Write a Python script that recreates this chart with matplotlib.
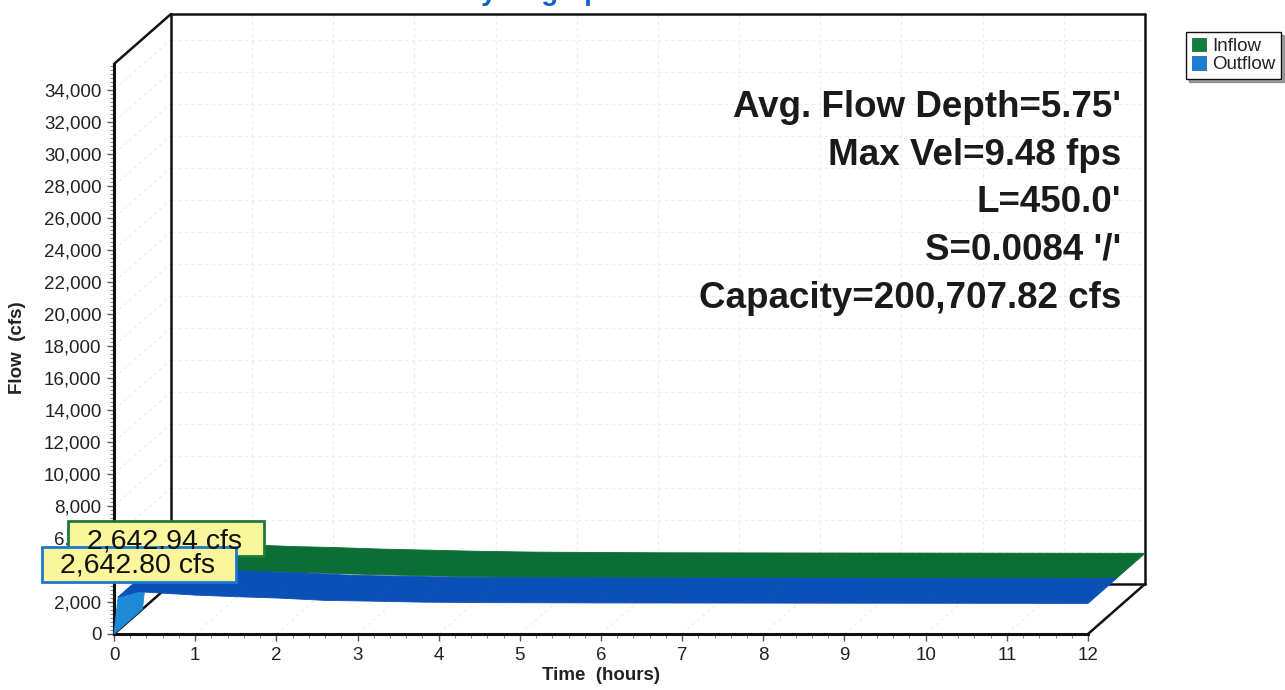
import numpy as np
import matplotlib.pyplot as plt
from matplotlib.patches import Patch, Polygon, Rectangle
from matplotlib.ticker import MultipleLocator, FuncFormatter

plt.rcParams['font.family'] = ['Liberation Sans', 'DejaVu Sans']

# reach routing hydrographs
time_hr = [0.0, 0.05, 0.3, 1.0, 1.5, 2.0, 2.6, 3.2, 3.8, 4.5, 6.0, 8.0, 10.0, 12.0]
inflow_cfs = [2642.94, 2640.0, 2600.0, 2440.0, 2340.0, 2280.0, 2180.0, 2110.0,
              2040.0, 1990.0, 1950.0, 1935.0, 1925.0, 1915.0]
outflow_cfs = [0.0, 2300.0, 2642.80, 2430.0, 2330.0, 2250.0, 2100.0, 2050.0,
               1990.0, 1960.0, 1940.0, 1930.0, 1920.0, 1910.0]
peak_in = 2642.94
peak_out = 2642.80

series_names = ['Inflow', 'Outflow']
stats_lines = ["Avg. Flow Depth=5.75'", "Max Vel=9.48 fps", "L=450.0'",
               "S=0.0084 '/'", "Capacity=200,707.82 cfs"]

T_MAX = 12.0
Q_MAX = 35600.0

W, H = 1285, 690
fig = plt.figure(figsize=(W / 100, H / 100), dpi=100)
fig.patch.set_facecolor('white')

# front plane of the pseudo-3d box
x0, x1, y0, y1 = 114, 1088, 634, 64
ax = fig.add_axes([x0 / W, 1 - y0 / H, (x1 - x0) / W, (y0 - y1) / H])
ax.set_xlim(0, T_MAX)
ax.set_ylim(0, Q_MAX)
ax.patch.set_alpha(0)

# depth of the box in data units (57 px right, 50 px up)
PX_T = (x1 - x0) / T_MAX
PX_Q = (y0 - y1) / Q_MAX
DEPTH_T = 57 / PX_T
DEPTH_Q = 50 / PX_Q

for s in ['top', 'right']:
    ax.spines[s].set_visible(False)
for s in ['left', 'bottom']:
    ax.spines[s].set_linewidth(2.2)
    ax.spines[s].set_color('#111111')

ax.xaxis.set_major_locator(MultipleLocator(1))
ax.xaxis.set_minor_locator(MultipleLocator(0.2))
ax.yaxis.set_major_locator(MultipleLocator(2000))
ax.yaxis.set_minor_locator(MultipleLocator(250))
ax.yaxis.set_major_formatter(FuncFormatter(lambda v, p: f'{v:,.0f}'))
ax.tick_params(which='major', length=5, width=1, color='#555555',
               labelsize=13.5, labelcolor='#222222', pad=4)
ax.tick_params(which='minor', length=3, width=0.8, color='#888888')

# faint grid on back wall, floor and side wall
grid_kw = dict(color='#ececec', lw=0.8, ls=(0, (3, 3)), clip_on=False, zorder=1)
for q in np.arange(2000, 34001, 2000):
    ax.plot([DEPTH_T, T_MAX + DEPTH_T], [q + DEPTH_Q, q + DEPTH_Q], **grid_kw)
    ax.plot([0, DEPTH_T], [q, q + DEPTH_Q], **grid_kw)
for t in range(1, 12):
    ax.plot([t + DEPTH_T, t + DEPTH_T], [DEPTH_Q, Q_MAX + DEPTH_Q], **grid_kw)
    ax.plot([t, t + DEPTH_T], [0, DEPTH_Q], **grid_kw)

# box outline
box_kw = dict(color='#111111', lw=1.8, clip_on=False, zorder=2, solid_capstyle='round')
ax.plot([0, DEPTH_T], [Q_MAX, Q_MAX + DEPTH_Q], **box_kw)
ax.plot([DEPTH_T, T_MAX + DEPTH_T], [Q_MAX + DEPTH_Q, Q_MAX + DEPTH_Q], **box_kw)
ax.plot([DEPTH_T, DEPTH_T], [DEPTH_Q, Q_MAX + DEPTH_Q], **box_kw)
ax.plot([T_MAX + DEPTH_T, T_MAX + DEPTH_T], [DEPTH_Q, Q_MAX + DEPTH_Q], **box_kw)
ax.plot([DEPTH_T, T_MAX + DEPTH_T], [DEPTH_Q, DEPTH_Q], **box_kw)
ax.plot([0, DEPTH_T], [0, DEPTH_Q], **box_kw)
ax.plot([T_MAX, T_MAX + DEPTH_T], [0, DEPTH_Q], **box_kw)


def ribbon(t, q, d0, d1, dark, light, z):
    t = np.asarray(t, float)
    q = np.asarray(q, float)
    for i in range(len(t) - 1):
        ts, qs = t[i:i + 2], q[i:i + 2]
        front = np.column_stack([ts + d0 * DEPTH_T, qs + d0 * DEPTH_Q])
        back = np.column_stack([ts[::-1] + d1 * DEPTH_T, qs[::-1] + d1 * DEPTH_Q])
        steep = abs(qs[1] - qs[0]) * PX_Q > abs(ts[1] - ts[0]) * PX_T
        c = light if steep else dark
        ax.add_patch(Polygon(np.vstack([front, back]), closed=True, fc=c, ec=c,
                             lw=0.6, clip_on=False, zorder=z))


green, green_l = '#0b6e34', '#2a9a55'
blue, blue_l = '#0b50b6', '#1e8ad6'
ribbon(time_hr, inflow_cfs, 0.5, 1.0, green, green_l, 3)
ribbon(time_hr, outflow_cfs, 0.0, 0.5, blue, blue_l, 4)

# axis titles and chart title
fig.text(601 / W, 1 - 676 / H, 'Time  (hours)', ha='center', va='center',
         fontsize=13.5, fontweight='bold', color='#222222')
fig.text(18 / W, 1 - 348 / H, 'Flow  (cfs)', ha='center', va='center',
         rotation=90, fontsize=13.5, fontweight='bold', color='#222222')
fig.text(540 / W, 1 + 0.5 / H, 'Hydrograph', ha='center', va='baseline',
         fontsize=20, fontweight='bold', color='#1560c8')

# reach stats
for txt, base in zip(stats_lines, [117, 165, 212, 259, 308]):
    fig.text(1121 / W, 1 - base / H, txt, ha='right', va='baseline',
             fontsize=26.5, fontweight='bold', color='#1a1a1a')

# peak flow call-outs
def callout(left, top, right, bottom, tx, base, text, edge):
    fig.patches.append(Rectangle((left / W, 1 - bottom / H), (right - left) / W,
                                 (bottom - top) / H, transform=fig.transFigure,
                                 fc='#fbf59c', ec=edge, lw=2, zorder=5))
    fig.text(tx / W, 1 - base / H, text, ha='left', va='baseline',
             fontsize=20.5, color='#111111', zorder=6)


callout(68, 521, 264, 556, 87, 548, f'{peak_in:,.2f} cfs', '#1c7a3a')
callout(42, 547, 236, 582, 60, 573, f'{peak_out:,.2f} cfs', '#1c78d0')

# legend
handles = [Patch(fc='#12803d', ec='#0a5a2a', lw=0.5),
           Patch(fc='#1a7fd4', ec='#0c5aa0', lw=0.5)]
leg = fig.legend(handles, series_names, loc='upper right',
                 bbox_to_anchor=(1281 / W, 1 - 32 / H), fancybox=False,
                 shadow=True, edgecolor='#111111', framealpha=1,
                 fontsize=13.5, handlelength=0.75, handleheight=0.75,
                 handletextpad=0.35, borderpad=0.3, labelspacing=0.05,
                 borderaxespad=0)
leg.get_frame().set_linewidth(1)
for t in leg.get_texts():
    t.set_color('#222222')

fig.savefig('out.png', dpi=100)
